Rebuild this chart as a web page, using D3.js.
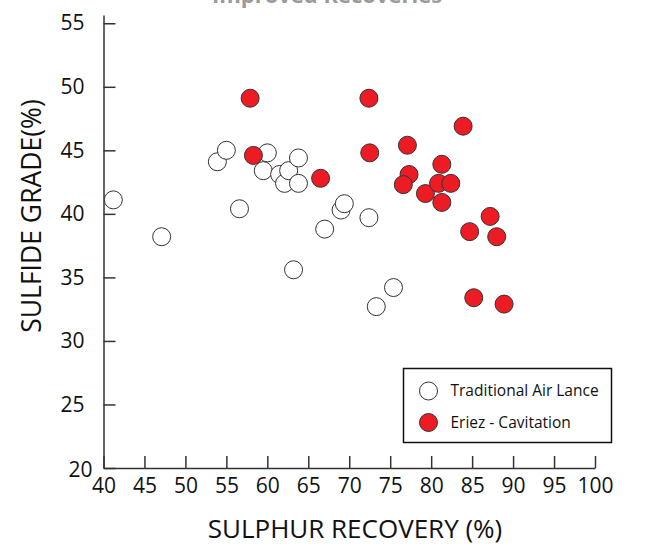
<!DOCTYPE html>
<html>
<head>
<meta charset="utf-8">
<script src="https://cdn.jsdelivr.net/npm/d3@7"></script>
<style>
  body { margin: 0; background: #fff; }
  text { font-family: "Open Sans", "DejaVu Sans", sans-serif; }
</style>
</head>
<body>
<div id="chart"></div>
<script>
const width = 645;
const height = 546;

// Traditional Air Lance (open circles)
const airRecovery = [41.2, 47.1, 53.9, 55.0, 56.6, 60.0, 59.5, 61.5, 62.1, 62.6, 63.8, 63.8, 63.2, 67.0, 69.0, 69.4, 72.4, 75.4, 73.3];
const airGrade    = [41.1, 38.2, 44.1, 45.0, 40.4, 44.8, 43.4, 43.1, 42.4, 43.4, 42.4, 44.4, 35.6, 38.8, 40.3, 40.8, 39.7, 34.2, 32.7];

// Eriez - Cavitation (red circles)
const eriezRecovery = [57.9, 58.3, 66.5, 72.4, 72.5, 77.1, 77.3, 76.6, 79.3, 81.3, 80.9, 82.4, 81.3, 83.9, 87.2, 84.7, 88.0, 85.2, 88.9];
const eriezGrade    = [49.1, 44.6, 42.8, 49.1, 44.8, 45.4, 43.1, 42.3, 41.6, 43.9, 42.4, 42.4, 40.9, 46.9, 39.8, 38.6, 38.2, 33.4, 32.9];

const xTicks = [40, 45, 50, 55, 60, 65, 70, 75, 80, 85, 90, 95, 100];
const yTicks = [20, 25, 30, 35, 40, 45, 50, 55];

const seriesNames = ["Traditional Air Lance", "Eriez - Cavitation"];
const seriesFill = ["#ffffff", "#ed1c24"];

const svg = d3.select("#chart")
    .append("svg")
    .attr("width", width)
    .attr("height", height);

const x = d3.scaleLinear()
    .domain([40, 100])
    .range([103.5, 595]);

const y = d3.scaleLinear()
    .domain([20, 55.65])
    .range([468, 15]);

// title, mostly cut off at the top
svg.append("text")
    .attr("x", 327)
    .attr("y", 3)
    .attr("text-anchor", "middle")
    .attr("font-size", "22px")
    .attr("font-weight", "bold")
    .attr("fill", "#9a9a9a")
    .text("Improved Recoveries");

// axes
const xAxis = d3.axisBottom(x)
    .tickValues(xTicks)
    .tickSizeInner(-12)
    .tickSizeOuter(0)
    .tickPadding(10.5);

const yAxis = d3.axisLeft(y)
    .tickValues(yTicks)
    .tickSizeInner(-12)
    .tickSizeOuter(0)
    .tickPadding(19);

const gx = svg.append("g")
    .attr("transform", `translate(0,${y(20)})`)
    .call(xAxis);

const gy = svg.append("g")
    .attr("transform", `translate(${x(40)},0)`)
    .call(yAxis);

[gx, gy].forEach(g => {
    g.select(".domain").attr("stroke", "#333").attr("stroke-width", 1.5);
    g.selectAll(".tick line").attr("stroke", "#333").attr("stroke-width", 1.5);
    g.selectAll(".tick text")
        .attr("font-size", "21px")
        .attr("font-family", "'Open Sans', sans-serif")
        .attr("fill", "#111");
});

// the 20 label sits tucked into the corner
gy.selectAll(".tick text")
    .filter(d => d === 20)
    .attr("x", -11)
    .attr("dy", "0.42em");

// axis titles
svg.append("text")
    .attr("x", 355)
    .attr("y", 538)
    .attr("text-anchor", "middle")
    .attr("font-size", "26px")
    .attr("fill", "#111")
    .text("SULPHUR RECOVERY (%)");

svg.append("text")
    .attr("transform", `translate(41,216) rotate(-90)`)
    .attr("text-anchor", "middle")
    .attr("font-size", "26.5px")
    .attr("fill", "#111")
    .text("SULFIDE GRADE(%)");

// points
const airData = airRecovery.map((v, i) => ({ x: v, y: airGrade[i] }));
const eriezData = eriezRecovery.map((v, i) => ({ x: v, y: eriezGrade[i] }));

svg.append("g").selectAll("circle")
    .data(airData)
    .enter().append("circle")
    .attr("cx", d => x(d.x))
    .attr("cy", d => y(d.y))
    .attr("r", 9)
    .attr("fill", seriesFill[0])
    .attr("stroke", "#333")
    .attr("stroke-width", 1);

svg.append("g").selectAll("circle")
    .data(eriezData)
    .enter().append("circle")
    .attr("cx", d => x(d.x))
    .attr("cy", d => y(d.y))
    .attr("r", 9)
    .attr("fill", seriesFill[1])
    .attr("stroke", "#333")
    .attr("stroke-width", 1);

// legend
const legend = svg.append("g");
legend.append("rect")
    .attr("x", 403.5)
    .attr("y", 368.5)
    .attr("width", 208)
    .attr("height", 74)
    .attr("fill", "#fff")
    .attr("stroke", "#111")
    .attr("stroke-width", 1.5);

seriesNames.forEach((name, i) => {
    legend.append("circle")
        .attr("cx", 428.5)
        .attr("cy", 391 + i * 31.5)
        .attr("r", 9)
        .attr("fill", seriesFill[i])
        .attr("stroke", "#333")
        .attr("stroke-width", 1);
    legend.append("text")
        .attr("x", 450.5)
        .attr("y", 396 + i * 31.5)
        .attr("font-size", "15.5px")
        .attr("fill", "#111")
        .text(name);
});
</script>
</body>
</html>
